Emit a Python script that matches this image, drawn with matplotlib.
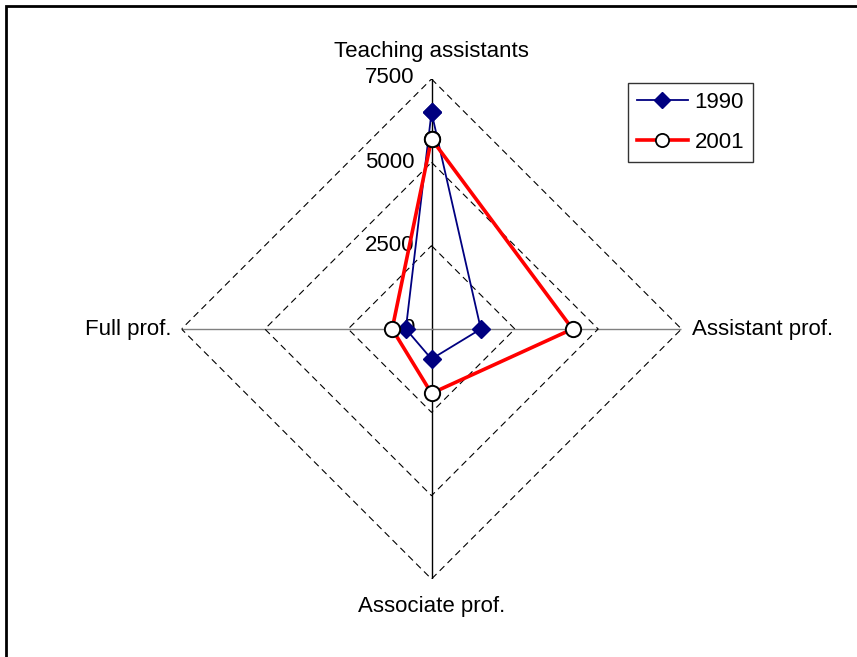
import numpy as np
import matplotlib.pyplot as plt
from matplotlib.patches import Rectangle
from matplotlib.lines import Line2D

plt.rcParams['font.family'] = ['Liberation Sans', 'DejaVu Sans']

categories = ['Teaching assistants', 'Assistant prof.', 'Associate prof.', 'Full prof.']
values_1990 = [6500, 1480, 900, 770]
values_2001 = [5700, 4230, 1930, 1180]
grid_levels = [2500, 5000, 7500]
tick_labels = ['0', '2500', '5000', '7500']
tick_values = [0, 2500, 5000, 7500]
r_max = 7500

FS = 16

fig = plt.figure(figsize=(8.57, 6.57), dpi=100)
ax = fig.add_axes([181.5 / 857, 78 / 657, 500 / 857, 500 / 657], projection='polar')
ax.set_theta_zero_location('N')
ax.set_theta_direction(-1)
ax.set_ylim(0, r_max)
ax.grid(False)
ax.spines['polar'].set_visible(False)
ax.set_xticks([])
ax.set_yticks([])
ax.patch.set_alpha(0)

theta = np.arange(len(categories)) * 2 * np.pi / len(categories)
theta_closed = np.append(theta, theta[0])

# spokes
for i, t in enumerate(theta):
    col = 'black' if i in (0, 2) else '#808080'
    ax.plot([t, t], [0, r_max], color=col, lw=1.0, zorder=1)

# dashed diamond gridlines
for lvl in grid_levels:
    ax.plot(theta_closed, [lvl] * len(theta_closed), color='black', lw=0.8,
            ls=(0, (6, 4)), zorder=1)

# value axis labels
for v, lab in zip(tick_values, tick_labels):
    ax.annotate(lab, xy=(0, v), xytext=(-12, 1 if v == r_max else 0),
                textcoords='offset points', ha='right', va='center',
                fontsize=FS, zorder=2)

# series
v1 = values_1990 + values_1990[:1]
v2 = values_2001 + values_2001[:1]
ax.plot(theta_closed, v1, color='#000080', lw=1.3, marker='D', markersize=9,
        markerfacecolor='#000080', markeredgecolor='#000080', zorder=3)
ax.plot(theta_closed, v2, color='#FF0000', lw=2.6, marker='o', markersize=11,
        markerfacecolor='white', markeredgecolor='black', markeredgewidth=1.4,
        zorder=4)

# category labels
offsets = [((0, 12), 'center', 'bottom'),
           ((7.5, 0), 'left', 'center'),
           ((0, -12), 'center', 'top'),
           ((-7, 0), 'right', 'center')]
for t, name, (off, ha, va) in zip(theta, categories, offsets):
    ax.annotate(name, xy=(t, r_max), xytext=off, textcoords='offset points',
                ha=ha, va=va, fontsize=FS, annotation_clip=False)

# legend
handles = [
    Line2D([], [], color='#000080', lw=1.3, marker='D', markersize=8,
           markerfacecolor='#000080', markeredgecolor='#000080'),
    Line2D([], [], color='#FF0000', lw=2.6, marker='o', markersize=9.5,
           markerfacecolor='white', markeredgecolor='black', markeredgewidth=1.3),
]
leg = fig.legend(handles, ['1990', '2001'], loc='upper left',
                 bbox_to_anchor=(628 / 857, 1 - 83 / 657), fontsize=FS,
                 frameon=True, fancybox=False, edgecolor='black',
                 handlelength=2.3, handletextpad=0.3, borderpad=0.4,
                 labelspacing=0.85, borderaxespad=0)
leg.get_frame().set_linewidth(1.0)

# outer chart frame
fig.patches.append(Rectangle((6 / 857, -0.1), 1.2, 1 - 6 / 657 + 0.1,
                             transform=fig.transFigure, fill=False,
                             edgecolor='black', lw=2))

fig.savefig('out.png', dpi=100)
